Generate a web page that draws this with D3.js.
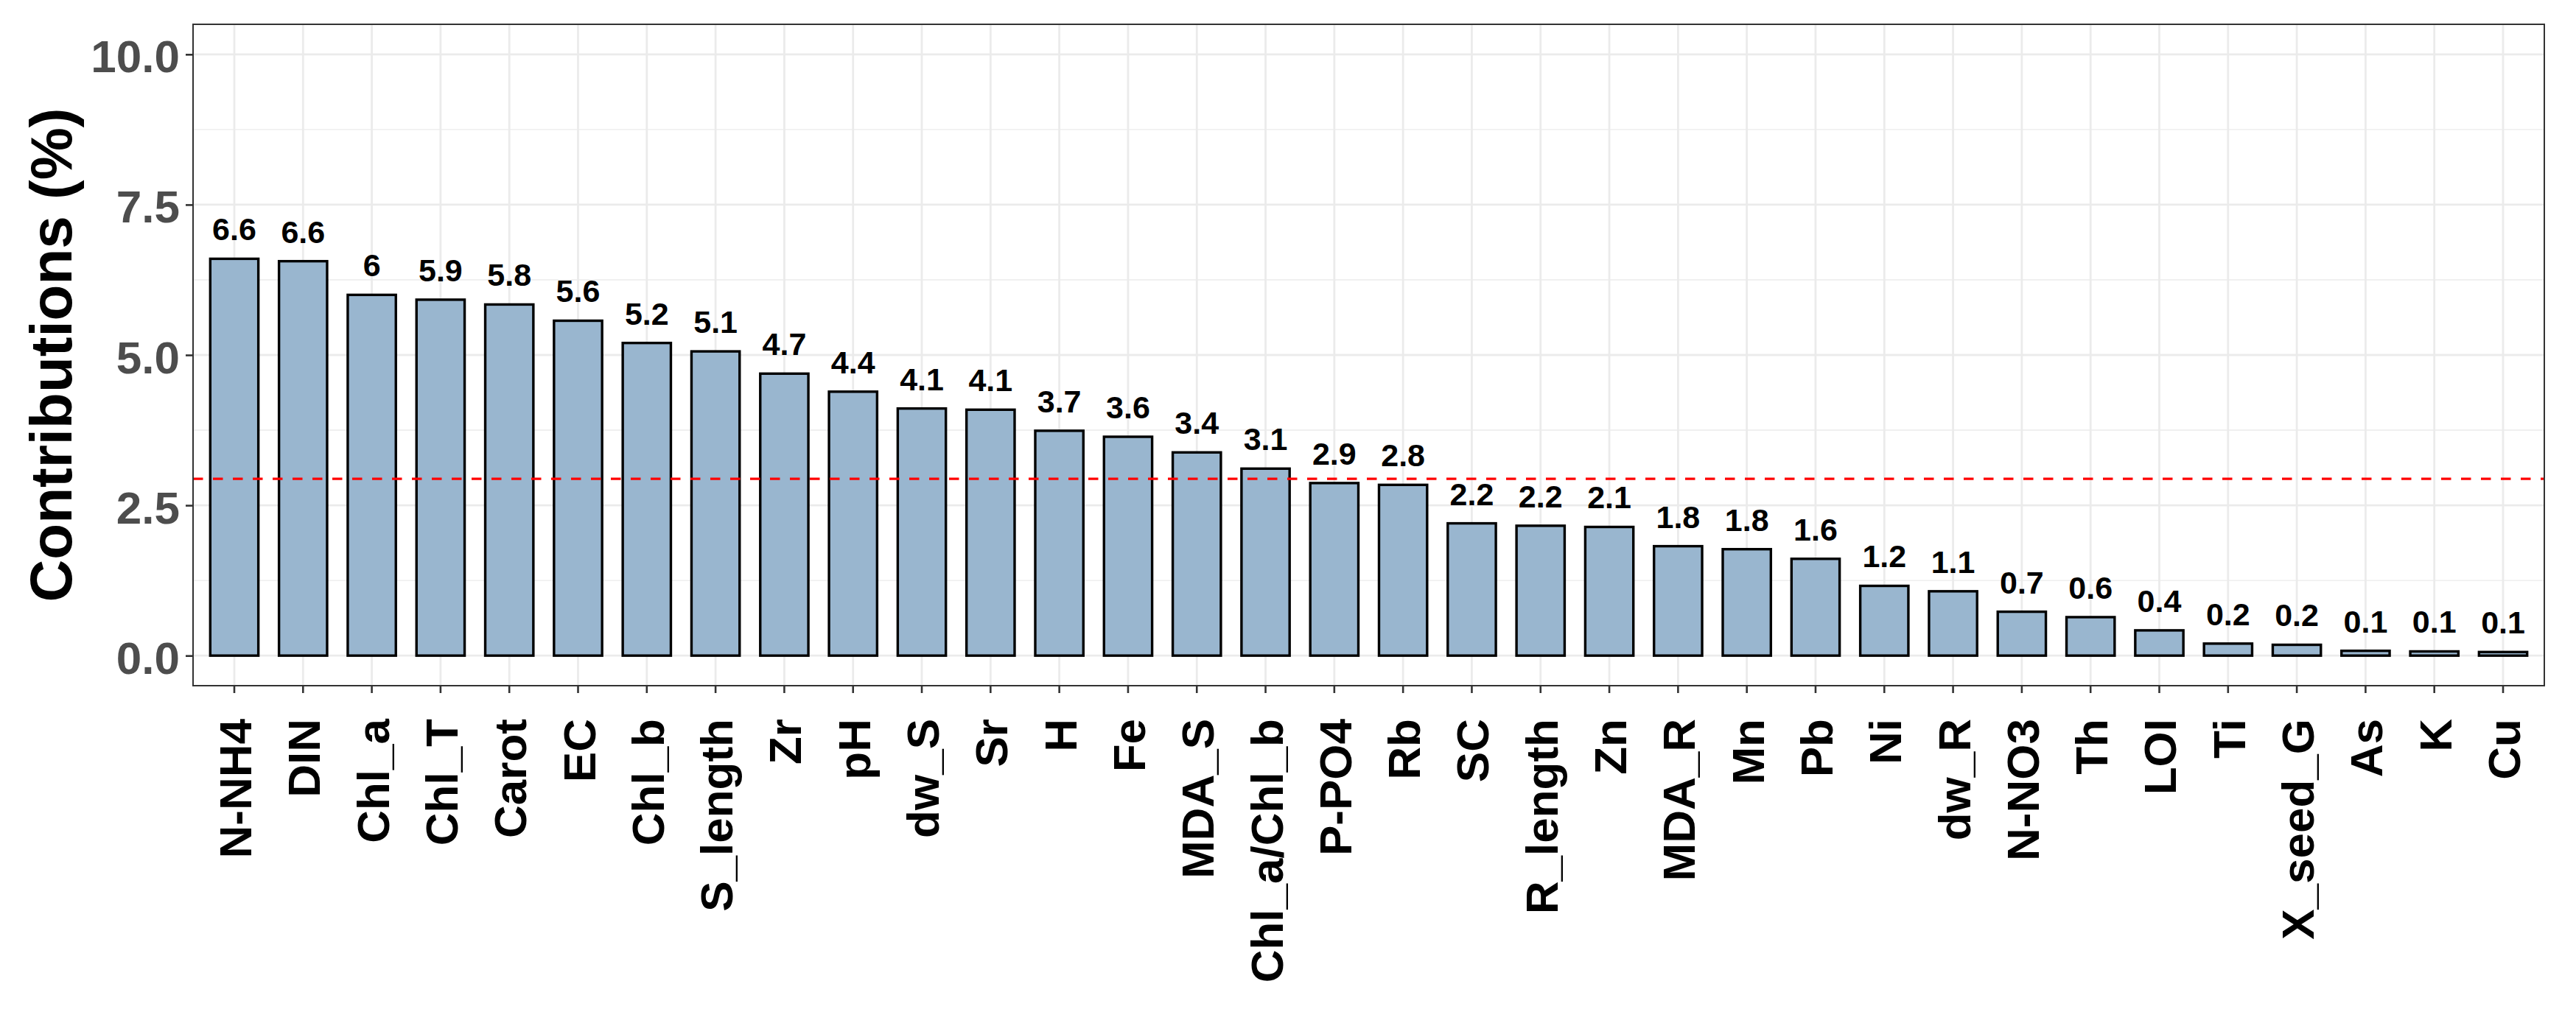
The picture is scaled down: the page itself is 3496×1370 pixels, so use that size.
<!DOCTYPE html>
<html>
<head>
<meta charset="utf-8">
<script src="https://cdn.jsdelivr.net/npm/d3@7"></script>
<style>
  html, body { margin: 0; padding: 0; background: #fff; }
  svg { display: block; font-family: "Liberation Sans", Arial, sans-serif; font-weight: bold; }
</style>
</head>
<body>
<svg id="chart" width="3496" height="1370"></svg>
<script>
// variables, sorted by contribution
const variables = ["N-NH4", "DIN", "Chl_a", "Chl_T", "Carot", "EC", "Chl_b", "S_length", "Zr", "pH",
  "dw_S", "Sr", "H", "Fe", "MDA_S", "Chl_a/Chl_b", "P-PO4", "Rb", "SC", "R_length",
  "Zn", "MDA_R", "Mn", "Pb", "Ni", "dw_R", "N-NO3", "Th", "LOI", "Ti",
  "X_seed_G", "As", "K", "Cu"];

// contributions (%)
const contributions = [6.60, 6.56, 6.00, 5.92, 5.84, 5.57, 5.20, 5.06, 4.69, 4.39,
  4.11, 4.09, 3.74, 3.64, 3.38, 3.11, 2.87, 2.84, 2.20, 2.16,
  2.14, 1.82, 1.77, 1.61, 1.16, 1.07, 0.73, 0.64, 0.42, 0.20,
  0.18, 0.08, 0.07, 0.06];

const yTicks = [0, 2.5, 5, 7.5, 10];
const yMinor = [1.25, 3.75, 6.25, 8.75];
// expected average contribution: 100 / number of variables
const refLine = 100 / variables.length;

let data = variables.map((v, i) => ({ name: v, value: contributions[i] }));

let svg = d3.select("#chart");

let panel = { left: 262, right: 3453, top: 33, bottom: 931 };

let x = d3.scaleBand()
  .domain(variables)
  .range([panel.left, panel.right])
  .paddingInner(0.3)
  .paddingOuter(0.25);

let y = d3.scaleLinear()
  .domain([-0.5, 10.5])
  .range([panel.bottom, panel.top]);

// background grid
let grid = svg.append("g").attr("class", "grid");

grid.selectAll("line.minor")
  .data(yMinor)
  .enter()
  .append("line")
    .attr("class", "minor")
    .attr("x1", panel.left).attr("x2", panel.right)
    .attr("y1", d => y(d)).attr("y2", d => y(d))
    .attr("stroke", "#ebebeb")
    .attr("stroke-width", 1.4);

grid.selectAll("line.majorY")
  .data(yTicks)
  .enter()
  .append("line")
    .attr("class", "majorY")
    .attr("x1", panel.left).attr("x2", panel.right)
    .attr("y1", d => y(d)).attr("y2", d => y(d))
    .attr("stroke", "#ebebeb")
    .attr("stroke-width", 2.8);

grid.selectAll("line.majorX")
  .data(variables)
  .enter()
  .append("line")
    .attr("class", "majorX")
    .attr("x1", d => x(d) + x.bandwidth() / 2).attr("x2", d => x(d) + x.bandwidth() / 2)
    .attr("y1", panel.top).attr("y2", panel.bottom)
    .attr("stroke", "#ebebeb")
    .attr("stroke-width", 2.8);

// bars
svg.append("g")
  .attr("class", "bars")
  .selectAll("rect")
  .data(data)
  .enter()
  .append("rect")
    .attr("x", d => x(d.name))
    .attr("width", x.bandwidth())
    .attr("y", d => y(d.value))
    .attr("height", d => y(0) - y(d.value))
    .attr("fill", "#99b6cf")
    .attr("stroke", "#000")
    .attr("stroke-width", 3.4);

// mean contribution line
svg.append("line")
  .attr("x1", panel.left).attr("x2", panel.right)
  .attr("y1", y(refLine)).attr("y2", y(refLine))
  .attr("stroke", "#ff0000")
  .attr("stroke-width", 3.2)
  .attr("stroke-dasharray", "13.5,13.5");

// value labels
svg.append("g")
  .attr("class", "labels")
  .selectAll("text")
  .data(data)
  .enter()
  .append("text")
    .attr("x", d => x(d.name) + x.bandwidth() / 2)
    .attr("y", d => y(d.value) - 25)
    .attr("text-anchor", "middle")
    .attr("font-size", 43)
    .attr("fill", "#000")
    .text(d => String(+d.value.toFixed(1)));

// panel border
svg.append("rect")
  .attr("x", panel.left).attr("y", panel.top)
  .attr("width", panel.right - panel.left)
  .attr("height", panel.bottom - panel.top)
  .attr("fill", "none")
  .attr("stroke", "#333333")
  .attr("stroke-width", 2);

// x axis
let xAxis = svg.append("g")
  .attr("transform", `translate(0,${panel.bottom})`)
  .call(d3.axisBottom(x).tickSize(10).tickSizeOuter(0));

xAxis.select(".domain").remove();
xAxis.selectAll(".tick line")
  .attr("stroke", "#333333")
  .attr("stroke-width", 2.6);
xAxis.selectAll(".tick text")
  .attr("x", null).attr("y", null).attr("dy", null)
  .attr("transform", "translate(23,45) rotate(-90)")
  .attr("text-anchor", "end")
  .attr("font-family", "Liberation Sans, Arial, sans-serif")
  .attr("font-weight", "bold")
  .attr("font-size", 62)
  .attr("fill", "#000");

// y axis
let yAxis = svg.append("g")
  .attr("transform", `translate(${panel.left},0)`)
  .call(d3.axisLeft(y).tickValues(yTicks).tickFormat(d3.format(".1f")).tickSize(10).tickSizeOuter(0));

yAxis.select(".domain").remove();
yAxis.selectAll(".tick line")
  .attr("stroke", "#333333")
  .attr("stroke-width", 2.6);
yAxis.selectAll(".tick text")
  .attr("x", -18)
  .attr("dy", null)
  .attr("y", 24)
  .attr("text-anchor", "end")
  .attr("font-family", "Liberation Sans, Arial, sans-serif")
  .attr("font-weight", "bold")
  .attr("font-size", 62)
  .attr("fill", "#4d4d4d");

// y axis title
svg.append("text")
  .attr("transform", `translate(97,${(panel.top + panel.bottom) / 2}) rotate(-90)`)
  .attr("text-anchor", "middle")
  .attr("font-size", 80)
  .attr("fill", "#000")
  .text("Contributions (%)");
</script>
</body>
</html>
